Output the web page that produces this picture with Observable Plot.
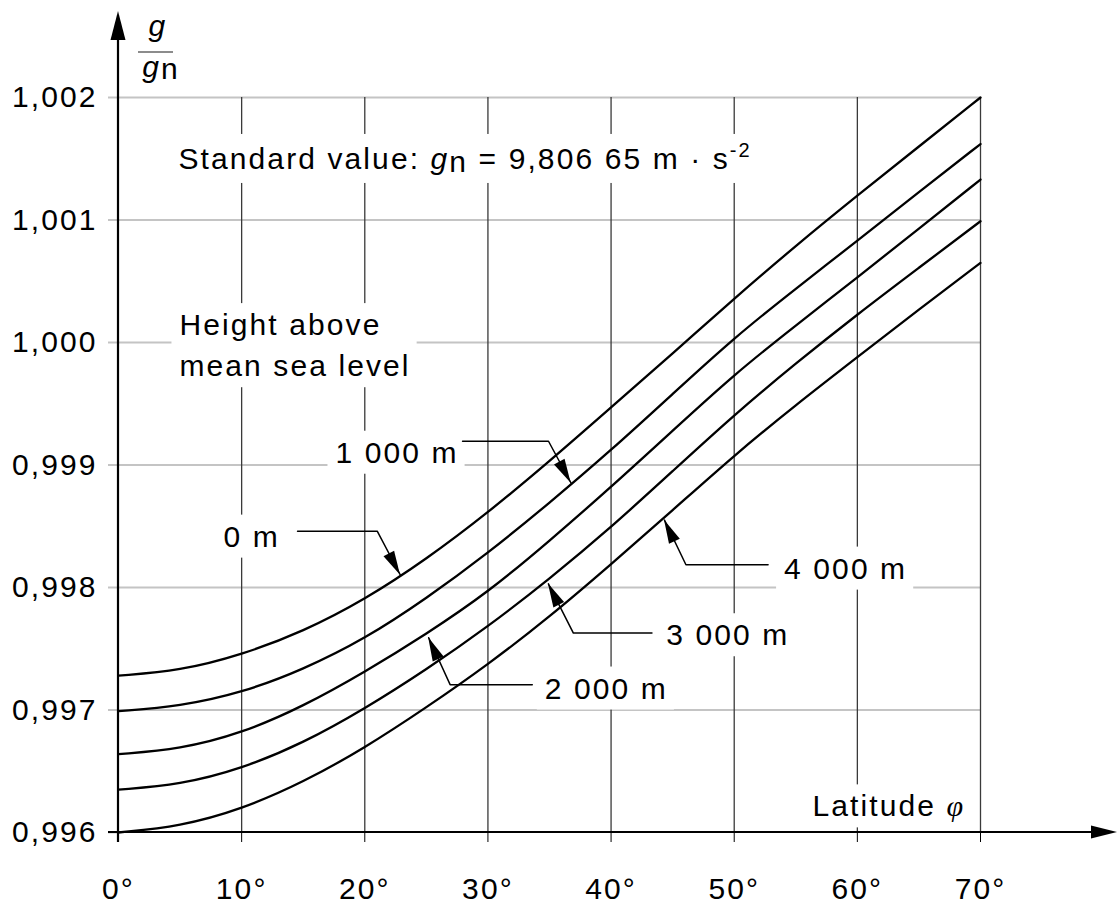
<!DOCTYPE html>
<html>
<head>
<meta charset="utf-8">
<script src="https://cdn.jsdelivr.net/npm/d3@7"></script>
<script src="https://cdn.jsdelivr.net/npm/@observablehq/plot@0.6"></script>
<style>
  html, body { margin: 0; padding: 0; background: #fff; overflow: hidden; }
  svg text { letter-spacing: 2.1px; }
</style>
</head>
<body>
<div id="chart"></div>
<script>
// ---- data ----
const latitude = [0, 5, 10, 15, 20, 25, 30, 35, 40, 45, 50, 55, 60, 65, 70];
const g0m    = [0.99728, 0.99732, 0.99745, 0.99764, 0.99790, 0.99823, 0.99861, 0.99903, 0.99947, 0.99991, 1.00036, 1.00079, 1.00120, 1.00160, 1.00200];
const g1000m = [0.99699, 0.99703, 0.99714, 0.99733, 0.99758, 0.99791, 0.99828, 0.99869, 0.99912, 0.99958, 1.00004, 1.00044, 1.00083, 1.00123, 1.00162];
const g2000m = [0.99664, 0.99668, 0.99681, 0.99703, 0.99731, 0.99762, 0.99796, 0.99838, 0.99882, 0.99928, 0.99974, 1.00014, 1.00053, 1.00093, 1.00133];
const g3000m = [0.99635, 0.99639, 0.99652, 0.99673, 0.99701, 0.99733, 0.99768, 0.99807, 0.99849, 0.99895, 0.99941, 0.99983, 1.00023, 1.00061, 1.00099];
const g4000m = [0.99600, 0.99605, 0.99619, 0.99641, 0.99669, 0.99702, 0.99737, 0.99776, 0.99819, 0.99863, 0.99908, 0.99949, 0.99988, 1.00027, 1.00065];
const heightNames = ["0 m", "1 000 m", "2 000 m", "3 000 m", "4 000 m"];
const series = [g0m, g1000m, g2000m, g3000m, g4000m];

const xTicks = [0, 10, 20, 30, 40, 50, 60, 70];
const yTicks = [0.996, 0.997, 0.998, 0.999, 1.000, 1.001, 1.002];

// annotation texts and their anchor positions (data units)
const noteText = ["Standard value: gn = 9,806 65 m · s-2", "Height above\nmean sea level", "0 m", "1 000 m", "2 000 m", "3 000 m", "4 000 m", "Latitude φ"];
const noteX = [4.87, 4.95, 8.53, 17.62, 34.62, 44.48, 54.05, 56.36];
const noteY = [1.001524, 1.000, 0.998441, 0.999126, 0.997201, 0.997636, 0.998180, 0.996239];

// leader lines from height labels to curves (data units, last point = arrow tip)
const leaderName = ["0 m", "1 000 m", "2 000 m", "3 000 m", "4 000 m"];
const leaderX = [[14.54, 21.01, 22.90], [27.94, 34.92, 36.76], [33.60, 26.93, 25.19], [43.32, 36.94, 34.91], [52.75, 46.08, 44.34]];
const leaderY = [[0.99846, 0.99846, 0.99810], [0.999194, 0.999194, 0.998851], [0.997207, 0.997207, 0.99759], [0.997628, 0.997628, 0.99803], [0.998186, 0.998186, 0.99855]];

// ---- tables built from the arrays ----
const curveRows = series.flatMap((vals, i) => vals.map((v, j) => ({lat: latitude[j], ratio: v, h: heightNames[i]})));
const noteRows = noteText.map((t, i) => ({t, x: noteX[i], y: noteY[i]}));
const leaderRows = leaderName.flatMap((n, i) => leaderX[i].map((x, j) => ({n, x, y: leaderY[i][j]})));

const chart = Plot.plot({
  width: 1117,
  height: 904,
  marginLeft: 118,
  marginRight: 137,
  marginTop: 97,
  marginBottom: 72,
  style: {fontFamily: '"Liberation Sans", Arial, sans-serif', fontSize: "30px", color: "#000", background: "#fff", overflow: "visible"},
  x: {domain: [0, 70], ticks: xTicks, tickFormat: d => d + "°", tickSize: 10, tickPadding: 35, label: null},
  y: {domain: [0.996, 1.002], ticks: yTicks, tickFormat: d => d.toFixed(3).replace(".", ","), tickSize: 10, tickPadding: 11, label: null},
  marks: [
    Plot.ruleY(yTicks.slice(1), {stroke: "#c4c4c4", strokeWidth: 2}),
    Plot.ruleX(xTicks.slice(1), {stroke: "#3a3a3a", strokeWidth: 1.3}),
    Plot.text(noteRows, {x: "x", y: "y", text: "t", textAnchor: "start", fill: "#000", lineHeight: 1.37}),
    Plot.line(curveRows, {x: "lat", y: "ratio", z: "h", stroke: "#000", strokeWidth: 2.3, curve: "basis"}),
    Plot.line(leaderRows, {x: "x", y: "y", z: "n", stroke: "#000", strokeWidth: 1.5})
  ]
});
document.getElementById("chart").append(chart);

// ---- decorations drawn with the plot's own scales ----
const svg = d3.select(chart);
const X = chart.scale("x"), Y = chart.scale("y");
const W = 1117;
const px = X.apply(xTicks[0]);
const py = Y.apply(yTicks[0]);

// y-axis tick marks continue the light grid lines
svg.selectAll('g[aria-label="y-axis tick"], g[aria-label="y-axis tick"] path, g[aria-label^="y-axis"] line').attr("stroke", "#c4c4c4").attr("stroke-width", 2);

// rich text: italic g, lowered n, superscript -2, italic phi
svg.selectAll('g[aria-label="text"] text').each(function() {
  const t = d3.select(this);
  const s = this.textContent;
  if (s.startsWith("Standard")) {
    t.text(null);
    t.append("tspan").text("Standard value: ");
    t.append("tspan").attr("font-style", "italic").text("g");
    t.append("tspan").attr("dy", 3).text("n");
    t.append("tspan").attr("dy", -3).text(" = 9,806 65 m · s");
    t.append("tspan").attr("dy", -12).attr("font-size", "20px").text("-2");
  } else if (s.startsWith("Latitude")) {
    t.text(null);
    t.append("tspan").text("Latitude ");
    t.append("tspan").attr("font-style", "italic").attr("font-family", '"Liberation Serif", "DejaVu Serif", serif').text("φ");
  }
});

// white boxes behind annotation texts (they interrupt the grid lines)
svg.selectAll('g[aria-label="text"] text').each(function() {
  const b = this.getBBox();
  const padX = 8, padY = 5;
  const r = document.createElementNS("http://www.w3.org/2000/svg", "rect");
  r.setAttribute("x", b.x - padX);
  r.setAttribute("y", b.y - padY);
  r.setAttribute("width", b.width + 2 * padX - 2);
  r.setAttribute("height", b.height + 2 * padY);
  r.setAttribute("fill", "#fff");
  r.setAttribute("stroke", "none");
  const tr = this.getAttribute("transform");
  if (tr) r.setAttribute("transform", tr);
  this.parentNode.insertBefore(r, this);
});

const deco = svg.append("g");
// x axis with arrow
deco.append("line").attr("x1", px - 10).attr("x2", W - 20).attr("y1", py).attr("y2", py).attr("stroke", "#000").attr("stroke-width", 2.2);
deco.append("path").attr("d", `M${W},${py}L${W - 26},${py - 6.5}L${W - 26},${py + 6.5}Z`).attr("fill", "#000");
// y axis with arrow
deco.append("line").attr("x1", px).attr("x2", px).attr("y1", py + 10).attr("y2", 36).attr("stroke", "#000").attr("stroke-width", 2.2);
deco.append("path").attr("d", `M${px},11L${px - 7.5},40L${px + 7.5},40Z`).attr("fill", "#000");

// y-axis label g / gn
deco.append("text").attr("x", px + 40).attr("y", 36).attr("text-anchor", "middle").attr("font-style", "italic").text("g");
deco.append("line").attr("x1", px + 20).attr("x2", px + 55).attr("y1", 52).attr("y2", 52).attr("stroke", "#666").attr("stroke-width", 1.5);
const den = deco.append("text").attr("x", px + 43).attr("y", 77).attr("text-anchor", "middle");
den.append("tspan").attr("font-style", "italic").text("g");
den.append("tspan").attr("dy", 2).text("n");

// arrowheads at leader tips
leaderX.forEach((xs, i) => {
  const n = xs.length;
  const x1 = X.apply(xs[n - 2]), y1 = Y.apply(leaderY[i][n - 2]);
  const x2 = X.apply(xs[n - 1]), y2 = Y.apply(leaderY[i][n - 1]);
  const dx = x2 - x1, dy = y2 - y1, L = Math.hypot(dx, dy);
  const ux = dx / L, uy = dy / L;
  const len = 24, hw = 6;
  const bx = x2 - ux * len, by = y2 - uy * len;
  deco.append("path")
    .attr("d", `M${x2},${y2}L${bx - uy * hw},${by + ux * hw}L${bx + uy * hw},${by - ux * hw}Z`)
    .attr("fill", "#000");
});
</script>
</body>
</html>
